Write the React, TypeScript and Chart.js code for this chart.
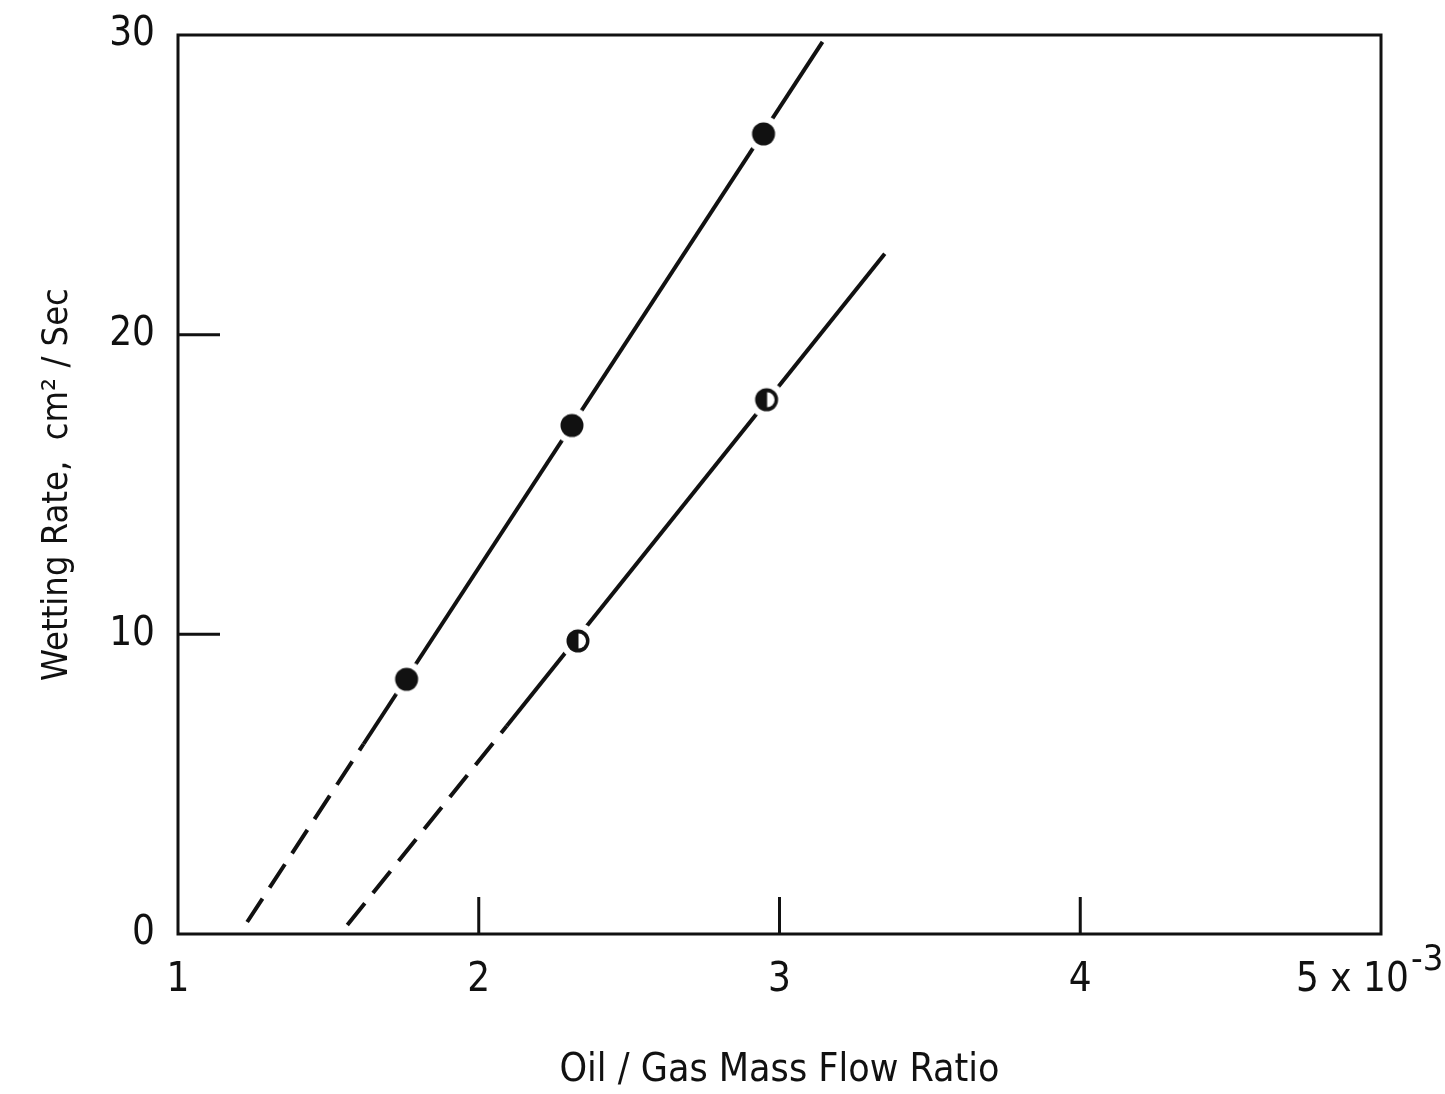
import React, { useEffect, useRef } from "react";
import { Chart, registerables } from "chart.js";

Chart.register(...registerables);

// Upper line (filled circles)
const line1DashedX = [1.23, 1.617];
const line1DashedY = [0.4, 6.34];
const line1SolidX = [1.617, 3.143];
const line1SolidY = [6.34, 29.77];
const filledX = [1.76, 2.31, 2.947];
const filledY = [8.5, 16.97, 26.7];

// Lower line (half-filled circles)
const line2DashedX = [1.563, 2.093];
const line2DashedY = [0.3, 6.94];
const line2SolidX = [2.093, 3.35];
const line2SolidY = [6.94, 22.7];
const halfX = [2.33, 2.957];
const halfY = [9.78, 17.83];

const xTicks = [1, 2, 3, 4, 5];
const yTicks = [0, 10, 20, 30];
const innerXTicks = [2, 3, 4];
const innerYTicks = [10, 20];

const FONT = "'DejaVu Sans Condensed', 'DejaVu Sans', sans-serif";
const INK = "#111";

const pts = (xs: number[], ys: number[]) => xs.map((x, i) => ({ x, y: ys[i] }));

function makeMarker(half: boolean): HTMLCanvasElement {
  const size = 38;
  const c = document.createElement("canvas");
  c.width = size;
  c.height = size;
  const g = c.getContext("2d")!;
  const m = size / 2;
  g.fillStyle = "#fff";
  g.beginPath();
  g.arc(m, m, 18, 0, Math.PI * 2);
  g.fill();
  g.fillStyle = INK;
  g.beginPath();
  g.arc(m, m, 11.5, 0, Math.PI * 2);
  g.fill();
  if (half) {
    g.fillStyle = "#fff";
    g.beginPath();
    g.arc(m + 0.5, m, 7.5, -Math.PI / 2, Math.PI / 2);
    g.closePath();
    g.fill();
  }
  return c;
}

const framePlugin = {
  id: "framePlugin",
  afterDraw(chart: any) {
    const { ctx, chartArea } = chart;
    const { left, right, top, bottom } = chartArea;
    const xs = chart.scales.x;
    const ys = chart.scales.y;
    ctx.save();
    ctx.strokeStyle = INK;
    ctx.lineWidth = 3;
    ctx.strokeRect(left, top, right - left, bottom - top);
    ctx.beginPath();
    innerYTicks.forEach((v) => {
      const y = ys.getPixelForValue(v);
      ctx.moveTo(left, y);
      ctx.lineTo(left + 42, y);
    });
    innerXTicks.forEach((v) => {
      const x = xs.getPixelForValue(v);
      ctx.moveTo(x, bottom);
      ctx.lineTo(x, bottom - 37);
    });
    ctx.stroke();
    // exponent on last x tick label
    const x5 = xs.getPixelForValue(5);
    ctx.fillStyle = INK;
    ctx.font = `36px ${FONT}`;
    ctx.textAlign = "left";
    ctx.textBaseline = "alphabetic";
    ctx.fillText("-3", x5 + 30, bottom + 36);
    ctx.restore();
  },
};

export default function App() {
  const ref = useRef<HTMLCanvasElement>(null);
  useEffect(() => {
    document.body.style.margin = "0";
    const filled = makeMarker(false);
    const half = makeMarker(true);
    const lineBase = {
      type: "line" as const,
      borderColor: INK,
      borderWidth: 4,
      pointRadius: 0,
      fill: false,
      order: 2,
    };
    const chart = new Chart(ref.current!, {
      type: "scatter",
      data: {
        datasets: [
          { ...lineBase, label: "l1 dashed", data: pts(line1DashedX, line1DashedY), borderDash: [28, 13] },
          { ...lineBase, label: "l1 solid", data: pts(line1SolidX, line1SolidY) },
          { ...lineBase, label: "l2 dashed", data: pts(line2DashedX, line2DashedY), borderDash: [28, 13] },
          { ...lineBase, label: "l2 solid", data: pts(line2SolidX, line2SolidY) },
          { label: "filled", data: pts(filledX, filledY), pointStyle: filled, order: 0 } as any,
          { label: "half", data: pts(halfX, halfY), pointStyle: half, order: 0 } as any,
        ],
      },
      options: {
        animation: false,
        responsive: false,
        maintainAspectRatio: false,
        layout: { padding: { top: 35, right: 64, left: 0, bottom: 0 } },
        plugins: { legend: { display: false }, tooltip: { enabled: false } },
        scales: {
          x: {
            type: "linear",
            min: 1,
            max: 5,
            afterBuildTicks: (s: any) => {
              s.ticks = xTicks.map((v) => ({ value: v }));
            },
            afterFit: (s: any) => {
              s.height = 160;
              s.paddingLeft = 0;
              s.paddingRight = 0;
            },
            grid: { display: false, drawTicks: false },
            border: { display: false },
            ticks: {
              color: INK,
              font: { family: FONT, size: 40 },
              padding: 23,
              maxRotation: 0,
              callback: (v: any) => (Number(v) === 5 ? "5 x 10     " : String(v)),
            },
            title: {
              display: true,
              text: "Oil / Gas Mass Flow Ratio",
              color: INK,
              font: { family: FONT, size: 39 },
              padding: { top: 0, bottom: 0 },
            },
          },
          y: {
            type: "linear",
            min: 0,
            max: 30,
            afterBuildTicks: (s: any) => {
              s.ticks = yTicks.map((v) => ({ value: v }));
            },
            afterFit: (s: any) => {
              s.width = 178;
              s.paddingTop = 0;
              s.paddingBottom = 0;
            },
            grid: { display: false, drawTicks: false },
            border: { display: false },
            ticks: {
              color: INK,
              font: { family: FONT, size: 40 },
              padding: 23,
            },
            title: {
              display: true,
              text: "Wetting Rate,  cm\u00B2 / Sec",
              color: INK,
              font: { family: FONT, size: 36 },
              padding: { top: 36, bottom: 0 },
            },
          },
        },
      },
      plugins: [framePlugin],
    } as any);
    return () => chart.destroy();
  }, []);
  return (
    <div style={{ width: 1445, height: 1094, background: "#fff" }}>
      <canvas ref={ref} width={1445} height={1094} style={{ display: "block" }} />
    </div>
  );
}
